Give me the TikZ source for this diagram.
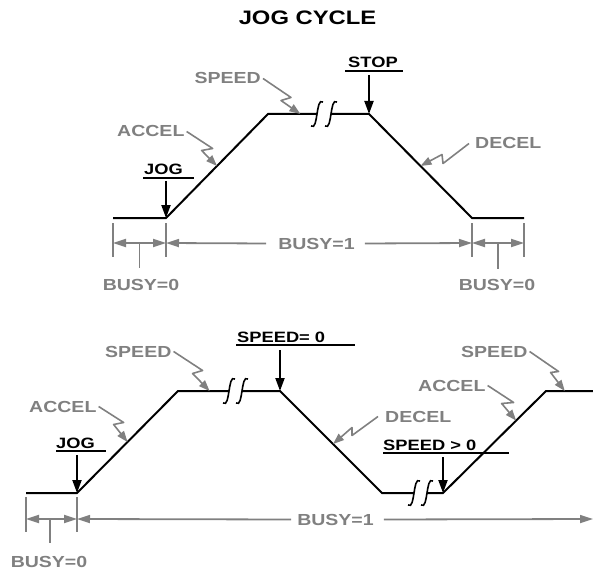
\documentclass[tikz,border=0pt]{standalone}
\usepackage{fontspec}
\setmainfont{Liberation Sans}[FakeStretch=1.22]
\usetikzlibrary{arrows.meta,calc}
\definecolor{leadgray}{RGB}{128,128,128}

\begin{document}
\begin{tikzpicture}[
   x=1pt,y=-1pt,
   profile/.style={line width=2pt},
   brk/.style={line width=1.6pt},
   arr/.style={-{Triangle[length=13pt,width=9pt]},line width=2pt},
   tag/.style={inner sep=0pt,anchor=base west,font=\fontsize{15}{15}\selectfont\bfseries},
   glabel/.style={inner sep=0pt,text=leadgray,font=\fontsize{16}{16}\selectfont\bfseries},
   leader/.style={-{Triangle[length=11pt,width=8pt]},color=leadgray,line width=1.6pt,line join=round},
   dim/.style={leadgray,line width=1.8pt},
   dimarr/.style={dim,-{Triangle[length=13pt,width=8pt]}}
 ]
  \useasboundingbox (0,0) rectangle (593,569);
  \node[inner sep=0pt,anchor=base,font=\fontsize{19.5}{19.5}\selectfont\bfseries] (title) at (307.5,25) {JOG CYCLE};

  % upper profile
  \coordinate (a0) at (113,218);
  \coordinate (a1) at (166,218);
  \coordinate (a2) at (268,114);
  \coordinate (a3) at (369,114);
  \coordinate (a4) at (472,218);
  \coordinate (a5) at (524,218);
  \coordinate (brkA1) at (317,114);
  \coordinate (brkA2) at (331,114);
  \draw[profile] (a0) -- (a1) -- (a2) -- (brkA1);
  \draw[profile] (brkA2) -- (a3) -- (a4) -- (a5);

  % lower profile
  \coordinate (b0) at (26,493);
  \coordinate (b1) at (77,493);
  \coordinate (b2) at (178,391);
  \coordinate (b3) at (280,391);
  \coordinate (b4) at (382,493);
  \coordinate (b5) at (443,493);
  \coordinate (b6) at (546,391);
  \coordinate (b7) at (593,391);
  \coordinate (brkB1) at (229,391);
  \coordinate (brkB2) at (242,391);
  \coordinate (brkC1) at (414,493);
  \coordinate (brkC2) at (427,493);
  \draw[profile] (b0) -- (b1) -- (b2) -- (brkB1);
  \draw[profile] (brkB2) -- (b3) -- (b4) -- (brkC1);
  \draw[profile] (brkC2) -- (b5) -- (b6) -- (b7);

  \foreach \p in {brkA1,brkA2,brkB1,brkB2,brkC1,brkC2}
    \draw[brk,shift={(\p)}] (-6,12) .. controls (-2,15) and (-1,6) .. (0,0)
          .. controls (1,-6) and (2,-15) .. (6,-12);

  % black labels with arrows
  \node[tag] (jogA) at (144,175) {JOG};
  \draw[profile] ($(jogA.base west)+(-1,3)$) -- ++(51,0);
  \draw[arr] ($(jogA.base -| a1)+(0,6)$) -- (a1);
  \node[tag] (stop) at (348,68) {STOP};
  \draw[profile] ($(stop.base west)+(-3,3)$) -- ++(58,0);
  \draw[arr] ($(stop.base -| a3)+(0,7)$) -- (a3);
  \node[tag] (zero) at (237,342) {SPEED= 0};
  \draw[profile] ($(zero.base west)+(-1,3)$) -- ++(119,0);
  \draw[arr] ($(zero.base -| b3)+(0,8)$) -- (b3);
  \node[tag] (jogB) at (56,448) {JOG};
  \draw[profile] ($(jogB.base west)+(0,3)$) -- ++(50,0);
  \draw[arr] ($(jogB.base -| b1)+(0,7)$) -- (b1);
  \node[tag] (above) at (383,450) {SPEED > 0};
  \draw[profile] ($(above.base west)+(0,3)$) -- ++(126,0);
  \draw[arr] ($(above.base -| b5)+(0,7)$) -- (b5);

  % gray labels with leaders
  \coordinate (tipAccA) at ($(a1)!0.5!(a2)$);
  \coordinate (tipSpdA) at ($(a2)!0.32!(a3)$);
  \coordinate (tipDecA) at ($(a3)!0.5!(a4)$);
  \coordinate (tipAccB) at ($(b1)!0.5!(b2)$);
  \coordinate (tipSpdB) at ($(b2)!0.31!(b3)$);
  \coordinate (tipDecB) at ($(b3)!0.52!(b4)$);
  \coordinate (tipAccC) at ($(b5)!0.71!(b6)$);
  \coordinate (tipSpdC) at ($(b6)!0.4!(b7)$);

  \node[glabel,anchor=base west] (accA) at (117,137) {ACCEL};
  \draw[leader] ([xshift=2pt]accA.east) -- ++(26,17) -- ++(-11,2) -- (tipAccA);
  \node[glabel,anchor=base east] (spdA) at (261,84) {SPEED};
  \draw[leader] ([xshift=2pt]spdA.east) -- ++(28,19) -- ++(-10,3) -- (tipSpdA);
  \node[glabel,anchor=base west] (decA) at (475,149) {DECEL};
  \draw[leader] ([xshift=-6pt]decA.west) -- ++(-26,20) -- ++(-1,-9) -- (tipDecA);
  \node[glabel,anchor=base west] (accB) at (29,412) {ACCEL};
  \draw[leader] ([xshift=2pt]accB.east) -- ++(25,16) -- ++(-10,2) -- (tipAccB);
  \node[glabel,anchor=base west] (spdB) at (105,357) {SPEED};
  \draw[leader] ([xshift=2pt]spdB.east) -- ++(29,19) -- ++(-10,3) -- (tipSpdB);
  \node[glabel,anchor=base west] (decB) at (385,422) {DECEL};
  \draw[leader] ([xshift=-7pt]decB.west) -- ++(-26,19) -- ++(0,-8) -- (tipDecB);
  \node[glabel,anchor=base west] (accC) at (418,391) {ACCEL};
  \draw[leader] ([xshift=2pt]accC.east) -- ++(26,17) -- ++(-12,1) -- (tipAccC);
  \node[glabel,anchor=base west] (spdC) at (461,357) {SPEED};
  \draw[leader] ([xshift=2pt]spdC.east) -- ++(29,20) -- ++(-8,1) -- (tipSpdC);

  % upper dimension lines
  \foreach \x in {113,166,472,524}
    \draw[dim] (\x,223) -- (\x,257);
  \coordinate (dA0) at (113,243);
  \coordinate (dA1) at (166,243);
  \coordinate (dA2) at (472,243);
  \coordinate (dA3) at (524,243);
  \coordinate (midA) at (139.5,243);
  \coordinate (midB) at (498,243);
  \node[glabel,anchor=base] (busyA) at (316.5,249) {BUSY=1};
  \draw[dimarr] ([xshift=-12pt]busyA.west) -- (dA1);
  \draw[dimarr] ([xshift=10pt]busyA.east) -- (dA2);
  \node[glabel,anchor=base] (idleA) at (141,290) {BUSY=0};
  \draw[dimarr] (midA) -- (dA0);
  \draw[dimarr] (midA) -- (dA1);
  \draw[dim] (midA) -- (midA |- 0,268);
  \node[glabel,anchor=base] (idleB) at (497,290) {BUSY=0};
  \draw[dimarr] (midB) -- (dA2);
  \draw[dimarr] (midB) -- (dA3);
  \draw[dim] (midB) -- (midB |- 0,269);

  % lower dimension lines
  \foreach \x in {26,77}
    \draw[dim] (\x,497) -- (\x,532);
  \coordinate (dB0) at (26,519);
  \coordinate (dB1) at (77,519);
  \coordinate (dB2) at (593,519);
  \coordinate (midC) at (50,519);
  \node[glabel,anchor=base] (busyB) at (335.5,525) {BUSY=1};
  \draw[dimarr] ([xshift=-6pt]busyB.west) -- (dB1);
  \draw[dimarr] ([xshift=10pt]busyB.east) -- (dB2);
  \node[glabel,anchor=base] (idleC) at (49,567) {BUSY=0};
  \draw[dimarr] (midC) -- (dB0);
  \draw[dimarr] (midC) -- (dB1);
  \draw[dim] (midC) -- (midC |- 0,543);
 \end{tikzpicture}
\end{document}
